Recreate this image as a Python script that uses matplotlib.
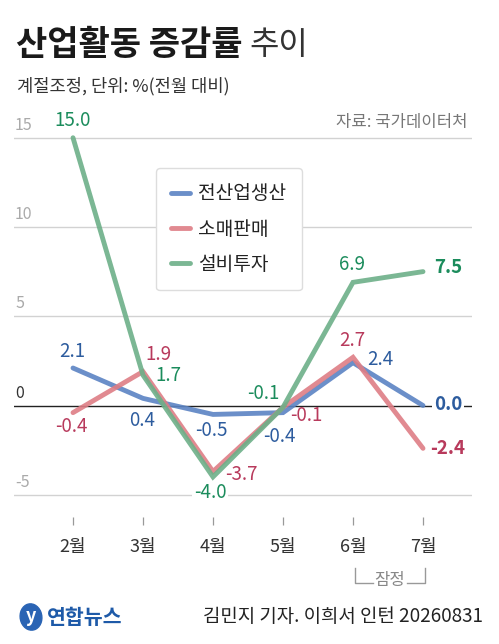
import matplotlib
matplotlib.use("Agg")
from matplotlib import pyplot as plt
from matplotlib.patches import Ellipse
from matplotlib.lines import Line2D

plt.rcParams['font.family'] = ['Noto Sans CJK KR', 'DejaVu Sans']

months = ["2월", "3월", "4월", "5월", "6월", "7월"]
series_names = ["전산업생산", "소매판매", "설비투자"]
production = [2.1, 0.4, -0.5, -0.4, 2.4, 0.0]
retail = [-0.4, 1.9, -3.7, -0.1, 2.7, -2.4]
investment = [15.0, 1.7, -4.0, -0.1, 6.9, 7.5]
grid_vals = [15, 10, 5, 0, -5]

line_colors = ["#5b83c3", "#de7d85", "#6daf88"]
text_colors = ["#2d5c9e", "#b83a5c", "#1b8c5c"]

# label offsets in pixels (dx, dy) for each point
offsets = [
    [(-1, 17), (-1, -22), (-2, -16), (-4, -24), (27, 3), (25, 1)],
    [(-2, -14), (15, 17), (28, -3), (23, -8), (-1, 17), (25, 0)],
    [(0, 17), (25, 0), (-3, -16), (-20, 14), (-1, 18), (25, 4)],
]

W, H = 499, 644
fig = plt.figure(figsize=(W / 100, H / 100), dpi=100)

def fx(px):
    return px / W

def fy(py):
    return 1 - py / H

left, right, top, bottom = 14, 472, 110, 517
ax = fig.add_axes([fx(left), fy(bottom), fx(right - left), (bottom - top) / H])
ppu = 17.85
zero = 405.5
ax.set_ylim((zero - bottom) / ppu, (zero - top) / ppu)
ax.set_xlim((left - 73) / 70, (right - 73) / 70)
for s in ax.spines.values():
    s.set_visible(False)
ax.set_yticks([])
x = list(range(len(months)))
ax.set_xticks(x)
ax.set_xticklabels(months, fontsize=13, color="#333333")
ax.tick_params(axis="x", direction="out", length=5.8, width=0.9, color="#999999", pad=9)

for v in grid_vals:
    if v == 0:
        ax.axhline(v, color="#222222", lw=1, zorder=1)
    else:
        ax.axhline(v, color="#d2d2d2", lw=1, zorder=1)
    ax.annotate(str(v), xy=(0, v), xycoords=("axes fraction", "data"),
                xytext=(1, 4), textcoords="offset pixels", ha="left", va="bottom",
                fontsize=11.5, color="#333333" if v == 0 else "#aaaaaa")

all_series = [production, retail, investment]
for k, ys in enumerate(all_series):
    ax.plot(x, ys, color=line_colors[k], lw=3.5, alpha=0.9, solid_capstyle="round",
            solid_joinstyle="miter", label=series_names[k], zorder=3 + k)
    for i, v in enumerate(ys):
        last = i == len(ys) - 1
        bbox = None
        if (k == 0 and last) or (k == 2 and i == 2):
            bbox = dict(boxstyle="square,pad=0.1", fc="white", ec="none")
        ax.annotate(f"{v:.1f}", xy=(i, v), xytext=offsets[k][i], textcoords="offset pixels",
                    ha="center", va="center", fontsize=13.5, color=text_colors[k],
                    fontweight="bold" if last else "normal", bbox=bbox, zorder=10)

leg = ax.legend(loc="upper left", bbox_to_anchor=(fx(156), fy(168)),
                bbox_transform=fig.transFigure, fontsize=13.8, handlelength=0.95,
                handletextpad=0.45, labelspacing=0.75, borderpad=0.8, borderaxespad=0,
                frameon=True, fancybox=True, framealpha=1, edgecolor="#dddddd")
leg.get_frame().set_linewidth(1)
for t in leg.get_texts():
    t.set_color("#222222")
leg.set_zorder(20)

# title and notes
fig.text(fx(16), fy(45), "산업활동 증감률", fontsize=24.5, fontweight="bold", color="#1a1a1a",
         ha="left", va="center")
fig.text(fx(249), fy(45), "추이", fontsize=23, fontweight="light", color="#333333",
         ha="left", va="center")
fig.text(fx(17), fy(86), "계절조정, 단위: %(전월 대비)", fontsize=12.7, color="#333333",
         ha="left", va="center")
fig.text(fx(467), fy(122), "자료: 국가데이터처", fontsize=12, color="#777777",
         ha="right", va="center")

# provisional bracket under 6월-7월
bc = "#999999"
fig.add_artist(Line2D([fx(355), fx(355), fx(373)], [fy(568), fy(583), fy(583)], color=bc, lw=1))
fig.add_artist(Line2D([fx(407), fx(425), fx(425)], [fy(583), fy(583), fy(568)], color=bc, lw=1))
fig.text(fx(390), fy(580), "잠정", fontsize=12, color="#888888", ha="center", va="center")

# footer
fig.add_artist(Ellipse((fx(31), fy(617)), 22 / W, 26 / H, angle=-20, color="#2a64b4"))
fig.text(fx(31), fy(617), "y", fontsize=13, color="white", ha="center", va="center",
         fontstyle="italic", fontweight="bold")
fig.text(fx(47), fy(617), "연합뉴스", fontsize=14.8, fontweight="bold", color="#1e5aa8",
         ha="left", va="center")
fig.text(fx(483), fy(617), "김민지 기자. 이희서 인턴 20260831", fontsize=13.6, color="#222222",
         ha="right", va="center")

fig.savefig("out.png", dpi=100)
